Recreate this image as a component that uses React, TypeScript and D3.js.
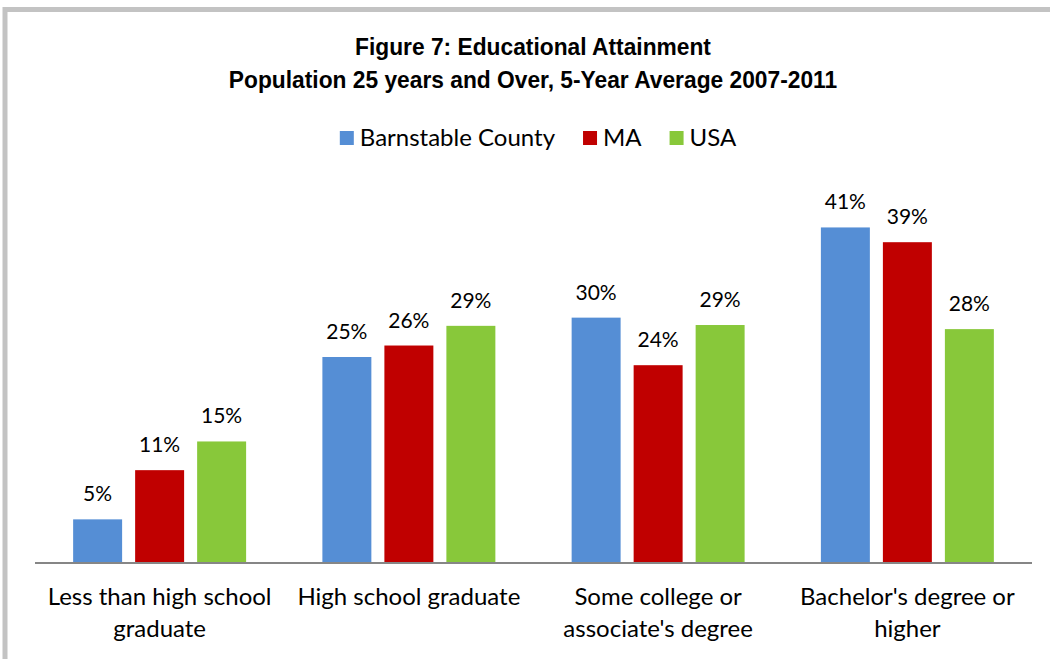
import React, { useEffect, useRef } from "react";
import * as d3 from "d3";

const categories = [
  "Less than high school graduate",
  "High school graduate",
  "Some college or associate's degree",
  "Bachelor's degree or higher",
];
const categoryLines = [
  ["Less than high school", "graduate"],
  ["High school graduate"],
  ["Some college or", "associate's degree"],
  ["Bachelor's degree or", "higher"],
];
const seriesNames = ["Barnstable County", "MA", "USA"];
const seriesColors = ["#558ED5", "#C00000", "#88C83A"];
const barnstable = [5.2, 25.0, 29.8, 40.8];
const ma = [11.2, 26.4, 24.0, 39.0];
const usa = [14.7, 28.8, 28.9, 28.4];
const titleLines = [
  "Figure 7: Educational Attainment",
  "Population 25 years and Over, 5-Year Average 2007-2011",
];

const W = 1050;
const H = 659;
const TEXT_FONT = "Lato, 'Open Sans', sans-serif";
const TITLE_FONT = "'Liberation Sans', Arial, sans-serif";

export default function App() {
  const ref = useRef<SVGSVGElement>(null);

  useEffect(() => {
    const svg = d3.select(ref.current);
    svg.selectAll("*").remove();

    const values = [barnstable, ma, usa];

    // border
    svg
      .append("rect")
      .attr("x", 5)
      .attr("y", 9.5)
      .attr("width", W + 50)
      .attr("height", H + 50)
      .attr("fill", "none")
      .attr("stroke", "#C3C3C3")
      .attr("stroke-width", 5);

    // title (narrow bold look)
    const title = svg
      .append("g")
      .attr("transform", "translate(533,0) scale(0.93,1)")
      .append("text")
      .attr("text-anchor", "middle")
      .attr("font-family", TITLE_FONT)
      .attr("font-weight", "bold")
      .attr("font-size", 24.5)
      .attr("fill", "#000");
    titleLines.forEach((t, i) => {
      title
        .append("tspan")
        .attr("x", 0)
        .attr("y", 55 + i * 33)
        .text(t);
    });

    const x0 = d3
      .scaleBand<string>()
      .domain(categories)
      .range([35, 1032])
      .paddingInner(0.306)
      .paddingOuter(0.153);
    const x1 = d3
      .scaleBand<string>()
      .domain(seriesNames)
      .range([0, x0.bandwidth()])
      .paddingInner(0.21)
      .paddingOuter(0);
    const y = d3.scaleLinear().domain([0, 45]).range([562, 562 - 45 * 8.2]);

    const groups = svg
      .append("g")
      .selectAll("g")
      .data(categories)
      .join("g")
      .attr("transform", (c) => `translate(${x0(c)},0)`);

    seriesNames.forEach((s, si) => {
      groups
        .append("rect")
        .attr("x", x1(s)!)
        .attr("width", x1.bandwidth())
        .attr("y", (_c, ci) => y(values[si][ci]))
        .attr("height", (_c, ci) => y(0) - y(values[si][ci]))
        .attr("fill", seriesColors[si]);
      groups
        .append("text")
        .attr("x", x1(s)! + x1.bandwidth() / 2)
        .attr("y", (_c, ci) => y(values[si][ci]) - 18)
        .attr("text-anchor", "middle")
        .attr("font-family", TEXT_FONT)
        .attr("font-size", 21)
        .attr("fill", "#000")
        .text((_c, ci) => `${Math.round(values[si][ci])}%`);
    });

    // axis line
    svg
      .append("line")
      .attr("x1", 35)
      .attr("x2", 1032)
      .attr("y1", 563)
      .attr("y2", 563)
      .attr("stroke", "#868686")
      .attr("stroke-width", 2);

    // category labels
    categories.forEach((c, ci) => {
      const t = svg
        .append("text")
        .attr("text-anchor", "middle")
        .attr("font-family", TEXT_FONT)
        .attr("font-size", 24)
        .attr("fill", "#000");
      categoryLines[ci].forEach((line, li) => {
        t.append("tspan")
          .attr("x", x0(c)! + x0.bandwidth() / 2)
          .attr("y", 605 + li * 32)
          .text(line);
      });
    });

    // legend
    const legend = svg.append("g");
    let cx = 0;
    seriesNames.forEach((s, si) => {
      legend
        .append("rect")
        .attr("x", cx)
        .attr("y", 131)
        .attr("width", 14)
        .attr("height", 14)
        .attr("fill", seriesColors[si]);
      const t = legend
        .append("text")
        .attr("x", cx + 20)
        .attr("y", 146)
        .attr("font-family", TEXT_FONT)
        .attr("font-size", 24)
        .attr("fill", "#000")
        .text(s);
      const w = (t.node() as SVGTextElement).getComputedTextLength();
      cx += 20 + w + 28;
    });
    const total = cx - 28;
    legend.attr("transform", `translate(${538 - total / 2},0)`);
  }, []);

  return (
    <svg
      ref={ref}
      width={W}
      height={H}
      style={{ position: "absolute", left: 0, top: 0, display: "block", background: "#fff" }}
    />
  );
}
